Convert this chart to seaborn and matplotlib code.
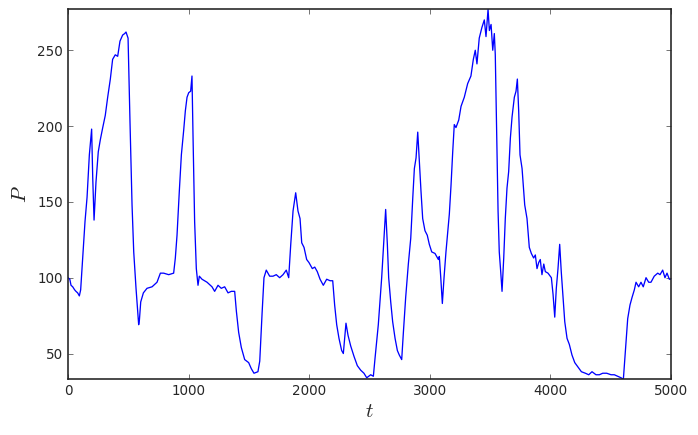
import numpy as np
import pandas as pd
import matplotlib
matplotlib.use('Agg')
import matplotlib.pyplot as plt
import seaborn as sns

# values (t, P)
t_vals = [0, 15, 25, 39, 55, 66, 80, 94, 105, 122, 141, 158, 177, 196, 205, 216,
          232, 251, 268, 288, 309, 329, 351, 370, 392, 412, 431, 453, 470, 481,
          498, 514, 531, 545, 564, 586, 592, 603, 625, 655, 697, 738, 766, 793,
          835, 876, 890, 904, 923, 940, 959, 973, 987, 1001, 1017, 1028, 1037,
          1050, 1064, 1078, 1089, 1111, 1153, 1194, 1216, 1244, 1271, 1299, 1327,
          1354, 1382, 1396, 1415, 1437, 1465, 1498, 1520, 1542, 1575, 1590, 1609,
          1625, 1644, 1672, 1700, 1727, 1755, 1783, 1810, 1830, 1847, 1866, 1888,
          1907, 1924, 1938, 1957, 1979, 1998, 2026, 2046, 2067, 2090, 2117, 2145,
          2173, 2195, 2211, 2228, 2247, 2269, 2283, 2294, 2305, 2322, 2344, 2372,
          2399, 2427, 2454, 2477, 2510, 2532, 2546, 2573, 2601, 2620, 2634, 2648,
          2659, 2676, 2692, 2712, 2731, 2747, 2767, 2781, 2800, 2822, 2842, 2859,
          2872, 2886, 2900, 2913, 2927, 2941, 2960, 2979, 2996, 3016, 3043, 3071,
          3079, 3091, 3104, 3118, 3134, 3151, 3162, 3176, 3190, 3203, 3217, 3240,
          3259, 3286, 3314, 3341, 3361, 3377, 3391, 3410, 3432, 3452, 3466, 3483,
          3494, 3508, 3522, 3535, 3543, 3555, 3566, 3576, 3588, 3599, 3613, 3626,
          3640, 3654, 3668, 3682, 3701, 3715, 3726, 3737, 3748, 3765, 3787, 3806,
          3825, 3842, 3861, 3875, 3889, 3903, 3916, 3930, 3945, 3958, 3980, 4008,
          4022, 4036, 4049, 4063, 4077, 4090, 4105, 4119, 4138, 4157, 4179, 4202,
          4229, 4257, 4290, 4318, 4345, 4378, 4406, 4434, 4467, 4503, 4530, 4558,
          4586, 4605, 4621, 4641, 4660, 4677, 4696, 4710, 4732, 4751, 4770, 4793,
          4815, 4834, 4861, 4890, 4909, 4931, 4950, 4967, 4986, 5000]
p_vals = [100, 99, 95, 94, 92, 91, 90, 88, 92, 113, 137, 153, 181, 198, 166, 138,
          163, 183, 191, 199, 207, 219, 231, 244, 247, 246, 256, 260, 261, 262,
          258, 203, 148, 117, 93, 69, 72, 84, 90, 93, 94, 97, 103, 103,
          102, 103, 113, 128, 157, 181, 197, 210, 219, 222, 223, 233, 192,
          137, 106, 95, 101, 99, 97, 94, 91, 95, 93, 94, 90,
          91, 91, 78, 64, 54, 46, 44, 40, 37, 38, 45, 76,
          100, 105, 101, 101, 102, 100, 102, 105, 100, 122, 144, 156,
          144, 139, 123, 120, 112, 110, 106, 107, 104, 99, 95, 99,
          98, 98, 82, 69, 60, 52, 50, 60, 70, 62, 55, 48,
          42, 39, 37, 34, 36, 35, 47, 69, 100, 126, 145, 122,
          100, 84, 71, 60, 52, 49, 46, 64, 87, 109, 126, 153,
          172, 179, 196, 177, 157, 139, 131, 128, 122, 117, 116, 112,
          114, 100, 83, 100, 117, 132, 142, 161, 183, 201, 199, 204,
          213, 219, 228, 233, 244, 250, 241, 258, 265, 270, 259, 277,
          263, 267, 250, 261, 247, 192, 144, 117, 104, 91, 113, 139,
          159, 170, 192, 206, 219, 223, 231, 210, 181, 172, 148, 139,
          120, 116, 113, 115, 106, 110, 112, 102, 109, 104, 103, 100,
          89, 74, 93, 106, 122, 104, 87, 71, 60, 56, 49, 44,
          41, 38, 37, 36, 38, 36, 36, 37, 37, 36, 36, 35,
          34, 33, 51, 73, 82, 87, 92, 97, 94, 97, 94, 100,
          97, 97, 101, 103, 102, 105, 100, 103, 99, 99]

x_ticks = [0, 1000, 2000, 3000, 4000, 5000]
y_ticks = [50, 100, 150, 200, 250]

df = pd.DataFrame({'t': t_vals, 'P': p_vals})

sns.set_style('white', {'xtick.direction': 'in', 'ytick.direction': 'in',
                        'axes.edgecolor': '#222222'})
plt.rcParams['font.family'] = ['DejaVu Sans']
plt.rcParams['mathtext.fontset'] = 'cm'

fig = plt.figure(figsize=(698 / 72, 435 / 72), dpi=72)
ax = fig.add_axes([68 / 698, 1 - 379.3 / 435, 603 / 698, 370 / 435])

sns.lineplot(data=df, x='t', y='P', color='blue', linewidth=1.3, ax=ax)

ax.set_xlim(0, 5000)
ax.set_ylim(df['P'].min(), df['P'].max())
ax.set_xticks(x_ticks)
ax.set_yticks(y_ticks)
ax.tick_params(axis='both', which='major', direction='in', length=5, width=0.8,
               color='#555555', labelsize=13.5, pad=5,
               top=True, right=True, bottom=True, left=True)
for s in ax.spines.values():
    s.set_linewidth(1.6)
    s.set_color('#222222')

ax.set_xlabel('$t$', fontsize=21, labelpad=3)
ax.set_ylabel('$P$', fontsize=21, labelpad=7)

fig.savefig('out.png', dpi=72)
